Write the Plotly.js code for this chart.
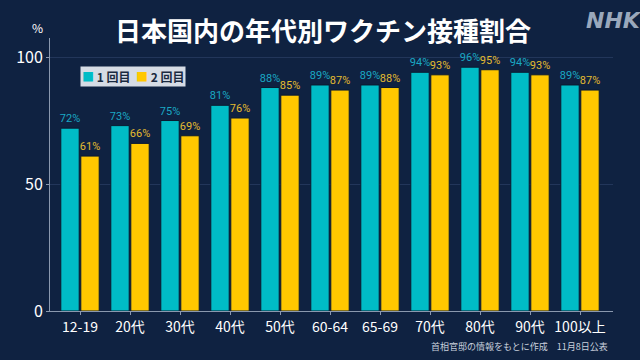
<!DOCTYPE html>
<html><head><meta charset="utf-8">
<script src="https://cdn.plot.ly/plotly-3.0.1.min.js"></script>
<style>html,body{margin:0;padding:0;background:#0f2241;}#chart{width:640px;height:360px;}</style>
</head><body><div id="chart"></div>
<script>
const categories = ["12-19","20代","30代","40代","50代","60-64","65-69","70代","80代","90代","100以上"];
const dose1 = [72,73,75,81,88,89,89,94,96,94,89];
const dose2 = [61,66,69,76,85,87,88,93,95,93,87];
const seriesNames = ["1回目","2回目"];
const font = "Noto Sans CJK JP, Noto Sans, sans-serif";
const teal = "#00bcc6", yellow = "#ffc800", bg = "#0f2241";
const traces = [
  {type:"bar", name:seriesNames[0], x:categories, y:dose1,
   marker:{color:teal, line:{color:"#0a1a30", width:1}},
   text:dose1.map(v=>v+"%"), textposition:"outside", cliponaxis:false, constraintext:"none",
   textfont:{color:"#1aa8c4", size:11, family:"Roboto, Noto Sans, sans-serif"}},
  {type:"bar", name:seriesNames[1], x:categories, y:dose2,
   marker:{color:yellow, line:{color:"#0a1a30", width:1}},
   text:dose2.map(v=>v+"%"), textposition:"outside", cliponaxis:false, constraintext:"none",
   textfont:{color:"#e3bb30", size:11, family:"Roboto, Noto Sans, sans-serif"}}
];
const legendText = '<span style="color:'+teal+'">■</span> <b>1 回目</b>  <span style="color:'+yellow+'">■</span> <b>2 回目</b>';
const layout = {
  width:640, height:360, paper_bgcolor:bg, plot_bgcolor:bg,
  margin:{l:50, r:27, t:38, b:49},
  barmode:"group", bargap:0.2, bargroupgap:0.08,
  font:{family:font, color:"#ffffff"},
  showlegend:false,
  xaxis:{type:"category", range:[-0.6,10.66], showline:true, linecolor:"#8a98ae", linewidth:1,
    ticks:"outside", ticklen:3, tickcolor:"#8a98ae", showgrid:false,
    tickfont:{size:14, color:"#ffffff", family:font}},
  yaxis:{range:[0,107.5], tickvals:[0,50,100], showline:true, linecolor:"#8a98ae", linewidth:1,
    ticks:"outside", ticklen:3, tickcolor:"#8a98ae",
    showgrid:true, gridcolor:"#22365a", gridwidth:1, zeroline:false,
    tickfont:{size:16, color:"#ffffff", family:font}},
  annotations:[
    {text:"<b>日本国内の年代別ワクチン接種割合</b>", xref:"paper", yref:"paper", x:0.485, y:1.03, xanchor:"center", yanchor:"middle",
     showarrow:false, font:{size:26, color:"#ffffff", family:font}},
    {text:"<b><i>NHK</i></b>", xref:"paper", yref:"paper", x:1.055, y:1.065, xanchor:"right", yanchor:"middle",
     showarrow:false, font:{size:22, color:"#9aa8bb", family:"DejaVu Sans, sans-serif"}},
    {text:"%", xref:"paper", yref:"paper", x:-0.022, y:1.0, xanchor:"center", yanchor:"bottom",
     showarrow:false, font:{size:12, color:"#ffffff", family:font}},
    {text:legendText, xref:"paper", yref:"paper", x:0.054, y:0.86, xanchor:"left", yanchor:"middle",
     showarrow:false, bgcolor:"#d6dce5", borderpad:1,
     font:{size:12, color:"#1a2a40", family:font}},
    {text:"首相官邸の情報をもとに作成　11月8日公表", xref:"paper", yref:"paper", x:0.995, y:-0.13, xanchor:"right", yanchor:"middle",
     showarrow:false, font:{size:9, color:"#c8d0dc", family:font}}
  ]
};
Plotly.newPlot("chart", traces, layout, {displayModeBar:false, staticPlot:true});
</script></body></html>
